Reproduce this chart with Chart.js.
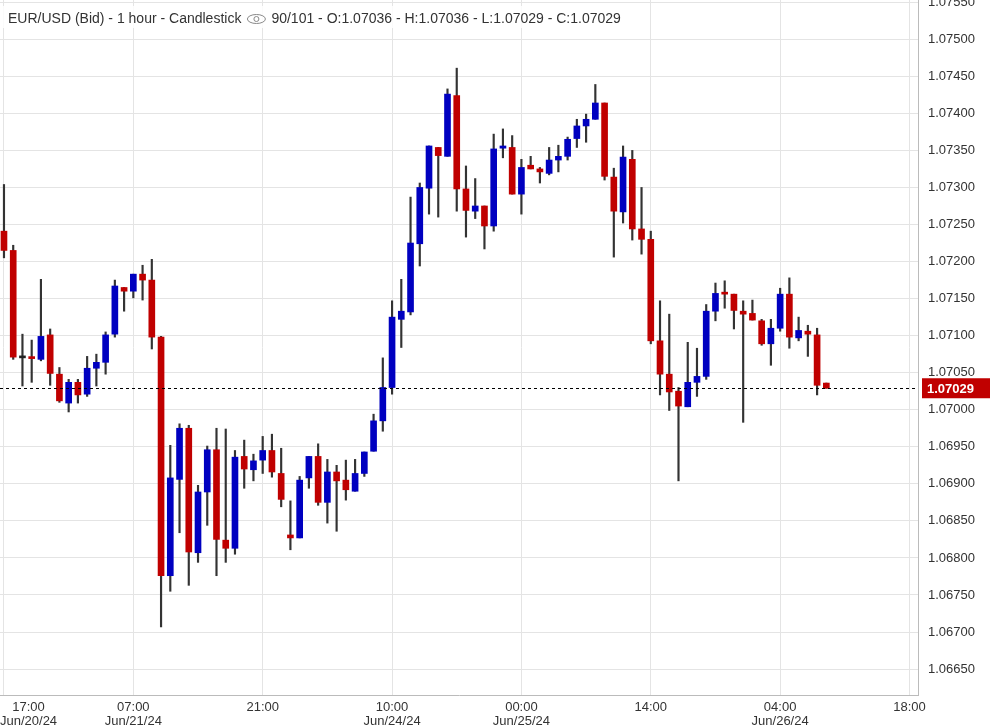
<!DOCTYPE html>
<html><head><meta charset="utf-8">
<script src="https://cdn.jsdelivr.net/npm/chart.js@4"></script>
<style>html,body{margin:0;padding:0;background:#fff}#w{width:995px;height:727px}</style>
</head><body><div id="w"><canvas id="c"></canvas></div>
<script>
const opens  = [1.07241,1.07215,1.07070,1.07071,1.07068,1.07101,1.07048,1.07009,1.07037,1.07021,1.07056,1.07064,1.07102,1.07165,1.07160,1.07183,1.07175,1.07098,1.06776,1.06906,1.06975,1.06807,1.06889,1.06946,1.06824,1.06813,1.06937,1.06919,1.06932,1.06945,1.06914,1.06831,1.06827,1.06908,1.06937,1.06875,1.06916,1.06905,1.06890,1.06914,1.06944,1.06985,1.07030,1.07122,1.07132,1.07224,1.07299,1.07354,1.07342,1.07424,1.07298,1.07268,1.07275,1.07248,1.07353,1.07354,1.07291,1.07330,1.07325,1.07319,1.07337,1.07342,1.07366,1.07383,1.07392,1.07414,1.07314,1.07267,1.07338,1.07244,1.07230,1.07093,1.07048,1.07025,1.07004,1.07037,1.07045,1.07133,1.07157,1.07156,1.07133,1.07130,1.07120,1.07089,1.07110,1.07156,1.07097,1.07106,1.07101,1.07036];
const highs  = [1.07304,1.07222,1.07102,1.07094,1.07176,1.07109,1.07057,1.07041,1.07041,1.07072,1.07075,1.07105,1.07175,1.07165,1.07183,1.07195,1.07203,1.07099,1.06952,1.06981,1.06979,1.06898,1.06951,1.06975,1.06974,1.06945,1.06959,1.06940,1.06964,1.06967,1.06948,1.06877,1.06910,1.06937,1.06954,1.06933,1.06925,1.06932,1.06933,1.06943,1.06994,1.07070,1.07147,1.07176,1.07287,1.07306,1.07356,1.07354,1.07433,1.07461,1.07329,1.07312,1.07275,1.07372,1.07379,1.07370,1.07338,1.07342,1.07327,1.07354,1.07357,1.07368,1.07392,1.07399,1.07439,1.07414,1.07326,1.07356,1.07350,1.07300,1.07241,1.07147,1.07129,1.07030,1.07091,1.07083,1.07142,1.07171,1.07174,1.07156,1.07147,1.07148,1.07122,1.07122,1.07164,1.07178,1.07125,1.07114,1.07110,1.07036];
const lows   = [1.07205,1.07068,1.07032,1.07037,1.07066,1.07033,1.07010,1.06997,1.07009,1.07018,1.07032,1.07048,1.07098,1.07133,1.07151,1.07148,1.07082,1.06707,1.06755,1.06834,1.06763,1.06794,1.06844,1.06776,1.06794,1.06805,1.06894,1.06904,1.06914,1.06909,1.06869,1.06811,1.06827,1.06894,1.06871,1.06847,1.06836,1.06878,1.06890,1.06910,1.06944,1.06971,1.07021,1.07084,1.07128,1.07194,1.07264,1.07260,1.07342,1.07268,1.07233,1.07258,1.07217,1.07241,1.07340,1.07291,1.07264,1.07325,1.07306,1.07317,1.07321,1.07337,1.07354,1.07361,1.07392,1.07310,1.07206,1.07252,1.07229,1.07210,1.07089,1.07020,1.06999,1.06904,1.07004,1.07018,1.07041,1.07120,1.07137,1.07109,1.06983,1.07121,1.07087,1.07060,1.07106,1.07083,1.07093,1.07072,1.07020,1.07029];
const closes = [1.07215,1.07071,1.07070,1.07069,1.07099,1.07049,1.07012,1.07037,1.07020,1.07056,1.07064,1.07101,1.07167,1.07160,1.07183,1.07175,1.07098,1.06776,1.06908,1.06975,1.06808,1.06889,1.06946,1.06825,1.06813,1.06936,1.06920,1.06931,1.06945,1.06916,1.06879,1.06827,1.06905,1.06937,1.06875,1.06916,1.06904,1.06892,1.06914,1.06943,1.06985,1.07030,1.07125,1.07133,1.07225,1.07300,1.07356,1.07343,1.07426,1.07298,1.07269,1.07275,1.07248,1.07352,1.07356,1.07291,1.07327,1.07325,1.07321,1.07337,1.07342,1.07365,1.07383,1.07392,1.07414,1.07315,1.07268,1.07341,1.07244,1.07230,1.07093,1.07048,1.07024,1.07005,1.07037,1.07045,1.07133,1.07157,1.07156,1.07134,1.07129,1.07121,1.07089,1.07110,1.07156,1.07098,1.07107,1.07102,1.07033,1.07029];
const tickIdx   = [0,14,28,42,56,70,84,98];
const tickTimes = ['17:00','07:00','21:00','10:00','00:00','14:00','04:00','18:00'];
const tickDates = ['Jun/20/24','Jun/21/24','','Jun/24/24','Jun/25/24','','Jun/26/24',''];
const yTicks = [];
for (let k = 0; k <= 19; k++) yTicks.push(+(1.0660 + k*0.0005).toFixed(5));
const lastPrice = 1.07029;

const idx = opens.map((_, i) => i);
const colorOf = i => opens[i] > closes[i] ? '#c00000' : (opens[i] < closes[i] ? '#0000c0' : '#222');

const overlay = {
  id: 'overlay',
  afterDatasetsDraw(ch) {
    const c = ch.ctx, y = ch.scales.y, x = ch.scales.x, a = ch.chartArea;
    const py = y.getPixelForValue(lastPrice);
    c.save();
    // y labels
    c.save();
    c.beginPath(); c.rect(a.right, 0, 100, a.bottom); c.clip();
    c.fillStyle = '#333'; c.font = '13px "Liberation Sans", Arial'; c.textAlign = 'left'; c.textBaseline = 'middle';
    yTicks.forEach(v => c.fillText(v.toFixed(5), a.right + 10, y.getPixelForValue(v)));
    c.restore();
    c.strokeStyle = '#000'; c.lineWidth = 1; c.setLineDash([3, 3]);
    c.beginPath(); c.moveTo(a.left, Math.round(py)+0.5); c.lineTo(a.right, Math.round(py)+0.5); c.stroke();
    c.setLineDash([]);
    c.fillStyle = '#c00000'; c.fillRect(a.right + 4, py - 10, 68, 20);
    c.fillStyle = '#fff'; c.font = 'bold 13px "Liberation Sans", Arial'; c.textBaseline = 'middle'; c.textAlign = 'left';
    c.fillText(lastPrice.toFixed(5), a.right + 9, py + 1);
    // x labels
    c.fillStyle = '#333'; c.font = '13px "Liberation Sans", Arial'; c.textAlign = 'center'; c.textBaseline = 'alphabetic';
    tickIdx.forEach((v, i) => {
      let px = x.getPixelForValue(v);
      const w = Math.max(c.measureText(tickTimes[i]).width, tickDates[i] ? c.measureText(tickDates[i]).width : 0);
      if (px - w/2 < 0) px = w/2;
      c.fillText(tickTimes[i], px, 711);
      if (tickDates[i]) c.fillText(tickDates[i], px, 725);
    });
    // title
    const t1 = 'EUR/USD (Bid) - 1 hour - Candlestick';
    const t2 = '90/101 - O:1.07036 - H:1.07036 - L:1.07029 - C:1.07029';
    c.font = '14px "Liberation Sans", Arial'; c.textAlign = 'left';
    const w1 = c.measureText(t1).width;
    c.fillStyle = 'rgba(255,255,255,0.85)'; c.fillRect(0, 6, w1 + 30 + c.measureText(t2).width + 8, 22);
    c.fillStyle = '#333';
    c.fillText(t1, 8, 23);
    const ex = 8 + w1 + 15, ey = 19;
    c.strokeStyle = '#888'; c.lineWidth = 1;
    c.beginPath(); c.ellipse(ex, ey, 9, 4.5, 0, 0, Math.PI*2); c.stroke();
    c.beginPath(); c.arc(ex, ey, 2.5, 0, Math.PI*2); c.stroke();
    c.fillText(t2, ex + 15, 23);
    c.restore();
  }
};

new Chart(document.getElementById('c'), {
  type: 'bar',
  data: {
    datasets: [
      { data: idx.map(i => ({x: i, y: [opens[i], closes[i]]})), backgroundColor: idx.map(colorOf),
        barThickness: 6, minBarLength: 2, grouped: false, order: 1 },
      { data: idx.map(i => ({x: i, y: [lows[i], highs[i]]})), backgroundColor: '#333',
        barThickness: 1.5, grouped: false, order: 2 }
    ]
  },
  options: {
    responsive: true, maintainAspectRatio: false, animation: false,
    layout: { padding: 0 },
    plugins: { legend: { display: false }, tooltip: { enabled: false } },
    scales: {
      x: {
        type: 'linear', min: -0.43, max: 98.92, offset: false,
        afterBuildTicks: s => { s.ticks = tickIdx.map(v => ({value: v})); },
        afterFit: s => { s.height = 32; },
        ticks: { display: false },
        grid: { color: '#e4e4e4', drawTicks: false, offset: false },
        border: { color: '#bbb' }
      },
      y: {
        position: 'right', min: 1.06615, max: 1.07553,
        afterBuildTicks: s => { s.ticks = yTicks.filter(v => v >= 1.0661).map(v => ({value: v})); },
        afterFit: s => { s.width = 77; },
        ticks: { display: false },
        grid: { color: '#e4e4e4', drawTicks: false },
        border: { color: '#bbb' }
      }
    }
  },
  plugins: [overlay]
});
</script></body></html>
